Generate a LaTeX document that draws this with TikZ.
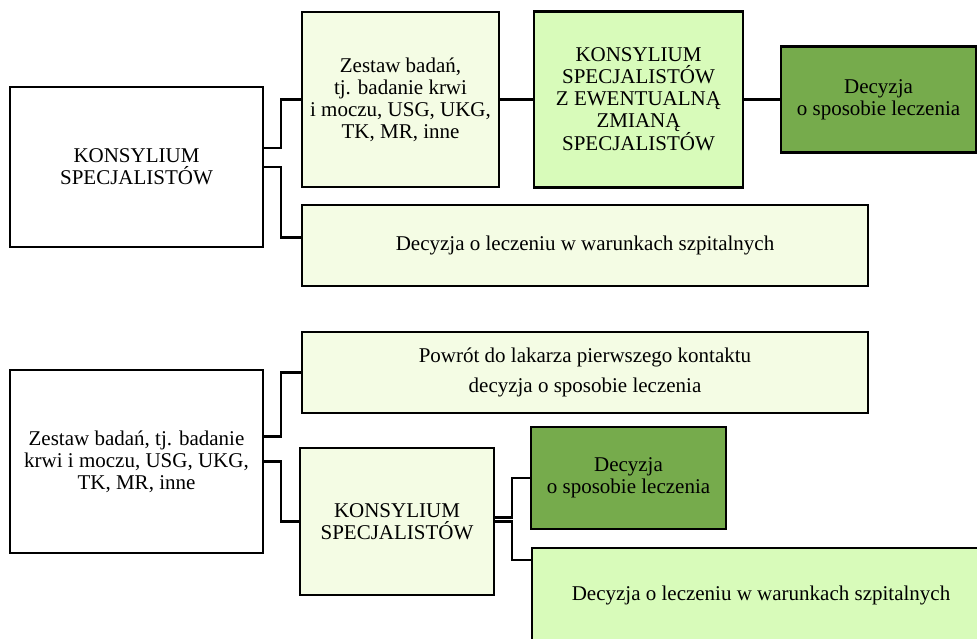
\documentclass[tikz,border=0pt]{standalone}
\usepackage{fontspec}
\setmainfont{Liberation Serif}
\usetikzlibrary{positioning,calc}

\definecolor{palegreen}{RGB}{244,252,228}
\definecolor{midgreen}{RGB}{216,251,186}
\definecolor{darkgreen}{RGB}{118,171,76}

\begin{document}
\begin{tikzpicture}[x=1pt,y=-1pt,font=\fontsize{21}{22}\selectfont]
  % Node styles
  \tikzstyle{plainbox}=[draw,line width=2.4pt,inner sep=0pt,outer sep=0pt,align=center,fill=white]
  \tikzstyle{palebox}=[plainbox,fill=palegreen]
  \tikzstyle{midbox}=[plainbox,fill=midgreen]
  \tikzstyle{darkbox}=[plainbox,fill=darkgreen]
  \tikzstyle{link}=[line width=2.2pt]

  \useasboundingbox (0,0) rectangle (977,638);
  \clip (0,0) rectangle (977,638);

  % Upper tree
  \node[plainbox,minimum width=253pt,minimum height=160pt,anchor=north west] (kons) at (10,87) {KONSYLIUM\\SPECJALISTÓW};
  \node[palebox,minimum width=197pt,minimum height=175pt,anchor=north west] (zest) at (302,12) {Zestaw badań,\\tj. badanie krwi\\i moczu, USG, UKG,\\TK, MR, inne};
  \node[midbox,minimum width=209pt,minimum height=176pt,right=35pt of zest] (konsz) {KONSYLIUM\\SPECJALISTÓW\\Z EWENTUALNĄ\\ZMIANĄ\\SPECJALISTÓW};
  \node[darkbox,minimum width=195pt,minimum height=106pt,right=38pt of konsz] (dec) {Decyzja\\o sposobie leczenia};
  \node[palebox,minimum width=566pt,minimum height=81pt,anchor=north west] (szpit) at (302,205) {Decyzja o leczeniu w warunkach szpitalnych};

  % Lower tree
  \node[plainbox,minimum width=253pt,minimum height=183pt,anchor=north west] (zestb) at (10,370) {Zestaw badań, tj. badanie\\krwi i moczu, USG, UKG,\\TK, MR, inne};
  \node[palebox,minimum width=566pt,minimum height=81pt,anchor=north west,font=\fontsize{21}{30}\selectfont] (powrot) at (302,332) {Powrót do lakarza pierwszego kontaktu\\decyzja o sposobie leczenia};
  \node[palebox,minimum width=194pt,minimum height=147pt,anchor=north west] (konsb) at (300,448) {KONSYLIUM\\SPECJALISTÓW};
  \node[darkbox,minimum width=195pt,minimum height=102pt,anchor=north west] (decb) at (531,427) {Decyzja\\o sposobie leczenia};
  \node[midbox,minimum width=458pt,minimum height=94pt,anchor=north west] (szpitb) at (532,548) {Decyzja o leczeniu w warunkach szpitalnych};

  % Connections
  \draw[link] ([yshift=19pt]kons.east) -- ++(18,0) |- (zest.west);
  \draw[link] (kons.east) -- ++(18,0) |- ([yshift=8pt]szpit.west);
  \draw[link] (zest.east) -- (konsz.west);
  \draw[link] (konsz.east) -- (dec.west);

  \draw[link] ([yshift=25pt]zestb.east) -- ++(18,0) |- (powrot.west);
  \draw[link] (zestb.east) -- ++(18,0) |- (konsb.west);
  \draw[link] ([yshift=4pt]konsb.east) -- ++(18,0) |- (decb.west);
  \draw[link] (konsb.east) -- ++(18,0) |- ([yshift=35pt]szpitb.west);
\end{tikzpicture}
\end{document}
